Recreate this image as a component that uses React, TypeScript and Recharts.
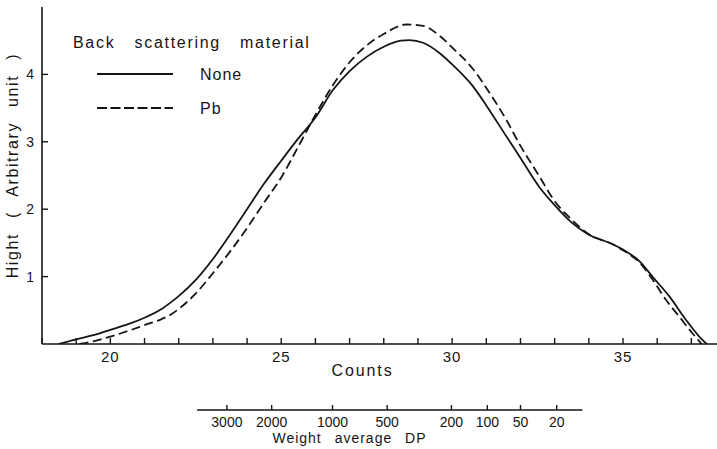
import { LineChart, Line, XAxis, YAxis, Legend, ReferenceLine } from "recharts";

// counts vs peak height
const NONE_COUNTS = [18.48, 19.0, 19.5, 20.0, 20.5, 21.0, 21.5, 21.75, 22.0, 22.5, 23.0, 23.5, 24.0, 24.5, 25.0, 25.5, 26.0, 26.5, 27.0, 27.5, 28.0, 28.5, 28.75, 29.15, 29.6, 30.0, 30.6, 31.0, 31.6, 32.0, 32.55, 33.0, 33.5, 34.0, 34.7, 35.0, 35.5, 35.86, 36.35, 36.84, 37.23, 37.45];
const NONE_HEIGHT = [0, 0.07, 0.13, 0.21, 0.29, 0.39, 0.52, 0.61, 0.71, 0.95, 1.26, 1.62, 2.0, 2.38, 2.72, 3.05, 3.36, 3.76, 4.05, 4.26, 4.41, 4.5, 4.51, 4.47, 4.33, 4.15, 3.83, 3.54, 3.07, 2.76, 2.33, 2.06, 1.8, 1.62, 1.48, 1.4, 1.22, 1.0, 0.71, 0.36, 0.11, 0];

const PB_COUNTS = [19.1, 19.5, 20.0, 20.5, 21.0, 21.5, 21.75, 22.0, 22.5, 23.0, 23.5, 24.0, 24.5, 25.0, 25.5, 26.0, 26.5, 27.0, 27.5, 28.0, 28.66, 29.15, 29.64, 30.0, 30.61, 31.0, 31.58, 32.0, 32.55, 33.0, 33.43, 34.0, 34.7, 35.0, 35.5, 35.9, 36.25, 36.64, 37.03, 37.3];
const PB_HEIGHT = [0, 0.04, 0.11, 0.19, 0.28, 0.37, 0.43, 0.52, 0.75, 1.05, 1.37, 1.72, 2.1, 2.47, 2.93, 3.4, 3.83, 4.18, 4.43, 4.6, 4.74, 4.72, 4.57, 4.4, 4.08, 3.8, 3.33, 2.94, 2.49, 2.12, 1.88, 1.63, 1.48, 1.39, 1.2, 0.93, 0.66, 0.41, 0.16, 0];

const COUNT_TICKS = [18, 19, 20, 21, 22, 23, 24, 25, 26, 27, 28, 29, 30, 31, 32, 33, 34, 35, 36, 37];
const COUNT_LABELS = [20, 25, 30, 35];
const HEIGHT_TICKS = [1, 2, 3, 4];

// secondary scale: weight average DP at the matching counts
const DP_LABELS = ["3000", "2000", "1000", "500", "200", "100", "50", "20"];
const DP_COUNTS = [23.41, 24.72, 26.5, 28.1, 29.98, 31.03, 32.0, 33.06];
const DP_SPAN = [22.54, 33.81];
const DP_LEVEL = -0.98; // height value where the DP scale sits, below the plot

const DOMAIN_X: [number, number] = [18, 37.75];
const INK = "#151515";
const FONT = '"Liberation Sans", Arial, sans-serif';

const noneData = NONE_COUNTS.map((c, i) => ({ counts: c, height: NONE_HEIGHT[i] }));
const pbData = PB_COUNTS.map((c, i) => ({ counts: c, height: PB_HEIGHT[i] }));

const renderCountTick = (props: any) => {
  const { x, y, payload } = props;
  return (
    <g>
      <path d={`M${x},${y}V${y - 6}`} stroke={INK} strokeWidth={1.4} fill="none" />
      {COUNT_LABELS.includes(payload.value) && (
        <text x={x} y={y + 18} textAnchor="middle" fontSize={15} fontFamily={FONT} fill={INK} letterSpacing={1}>
          {payload.value}
        </text>
      )}
    </g>
  );
};

const renderDpTick = (props: any) => {
  const { x, y, index } = props;
  return (
    <g>
      <path d={`M${x},${y}V${y - 5}`} stroke={INK} strokeWidth={1.4} fill="none" />
      <text x={x} y={y + 17} textAnchor="middle" fontSize={14} fontFamily={FONT} fill={INK}>
        {DP_LABELS[index]}
      </text>
    </g>
  );
};

const renderHeightTick = (props: any) => {
  const { x, y, payload } = props;
  return (
    <g>
      <path d={`M${x},${y}H${x + 6}`} stroke={INK} strokeWidth={1.4} fill="none" />
      <text x={x - 8} y={y + 5} textAnchor="end" fontSize={14} fontFamily={FONT} fill={INK}>
        {payload.value}
      </text>
    </g>
  );
};

const CountsTitle = ({ viewBox }: any) => (
  <text
    x={viewBox.x + viewBox.width / 2 - 17}
    y={viewBox.y + 32}
    textAnchor="middle"
    fontSize={16}
    fontFamily={FONT}
    fill={INK}
    letterSpacing={1.9}
  >
    Counts
  </text>
);

const DpTitle = ({ viewBox }: any) => (
  <text
    x={viewBox.x + viewBox.width / 2 - 30}
    y={viewBox.y + 33}
    textAnchor="middle"
    fontSize={14}
    fontFamily={FONT}
    fill={INK}
    letterSpacing={1}
    wordSpacing={8}
  >
    Weight average DP
  </text>
);

const HeightTitle = ({ viewBox }: any) => {
  const cx = viewBox.x + 12;
  const cy = viewBox.y + viewBox.height / 2 - 10;
  return (
    <text
      x={cx}
      y={cy}
      transform={`rotate(-90 ${cx} ${cy})`}
      textAnchor="middle"
      dominantBaseline="central"
      fontSize={16}
      fontFamily={FONT}
      fill={INK}
      letterSpacing={1.6}
      wordSpacing={9}
    >
      Hight ( Arbitrary unit )
    </text>
  );
};

const LegendBox = ({ payload }: any) => (
  <svg width={260} height={100} style={{ display: "block" }}>
    <text x={13} y={25.7} fontSize={16} fontFamily={FONT} fill={INK} letterSpacing={1.7} wordSpacing={13}>
      Back scattering material
    </text>
    {(payload || []).map((entry: any, i: number) => (
      <g key={entry.value}>
        <line
          x1={37}
          x2={113}
          y1={52 + i * 34}
          y2={52 + i * 34}
          stroke={INK}
          strokeWidth={1.8}
          strokeDasharray={entry.payload?.strokeDasharray ? "10 3.5" : undefined}
        />
        <text x={140} y={57.7 + i * 34} fontSize={16} fontFamily={FONT} fill={INK} letterSpacing={1}>
          {entry.value}
        </text>
      </g>
    ))}
  </svg>
);

const App = () => (
  <div style={{ position: "absolute", left: 0, top: 0, width: 717, height: 449, background: "#fff" }}>
    <LineChart
      width={717}
      height={449}
      data={noneData}
      margin={{ top: 7, right: 0, left: 0, bottom: 0 }}
      style={{ fontFamily: FONT }}
    >
      <XAxis
        xAxisId="counts"
        type="number"
        dataKey="counts"
        domain={DOMAIN_X}
        allowDataOverflow
        ticks={COUNT_TICKS}
        interval={0}
        tickSize={0}
        tickMargin={0}
        tickLine={false}
        tick={renderCountTick}
        height={66}
        axisLine={{ stroke: INK, strokeWidth: 1.6 }}
        label={CountsTitle}
      />
      <XAxis
        xAxisId="dp"
        type="number"
        dataKey="counts"
        domain={DOMAIN_X}
        allowDataOverflow
        ticks={DP_COUNTS}
        interval={0}
        tickSize={0}
        tickMargin={0}
        tickLine={false}
        tick={renderDpTick}
        height={39}
        axisLine={false}
        label={DpTitle}
      />
      <XAxis
        xAxisId="top"
        orientation="top"
        type="number"
        dataKey="counts"
        domain={DOMAIN_X}
        allowDataOverflow
        tick={false}
        tickLine={false}
        height={0}
        axisLine={{ stroke: INK, strokeWidth: 1.6 }}
      />
      <YAxis
        type="number"
        domain={[0, 5]}
        allowDataOverflow
        ticks={HEIGHT_TICKS}
        interval={0}
        tickSize={0}
        tickMargin={0}
        tickLine={false}
        tick={renderHeightTick}
        width={42}
        axisLine={{ stroke: INK, strokeWidth: 1.6 }}
        label={HeightTitle}
      />
      <Legend
        layout="vertical"
        align="center"
        verticalAlign="middle"
        content={<LegendBox />}
        wrapperStyle={{ left: 60, top: 22, width: 260, height: 100 }}
      />
      <ReferenceLine
        xAxisId="counts"
        segment={[
          { x: DP_SPAN[0], y: DP_LEVEL },
          { x: DP_SPAN[1], y: DP_LEVEL },
        ]}
        ifOverflow="visible"
        stroke={INK}
        strokeWidth={1.6}
      />
      <Line
        xAxisId="counts"
        data={noneData}
        dataKey="height"
        name="None"
        type="monotone"
        stroke={INK}
        strokeWidth={1.8}
        dot={false}
        activeDot={false}
        isAnimationActive={false}
      />
      <Line
        xAxisId="counts"
        data={pbData}
        dataKey="height"
        name="Pb"
        type="monotone"
        stroke={INK}
        strokeWidth={1.8}
        strokeDasharray="9 4.5"
        dot={false}
        activeDot={false}
        isAnimationActive={false}
      />
    </LineChart>
  </div>
);

export default App;
